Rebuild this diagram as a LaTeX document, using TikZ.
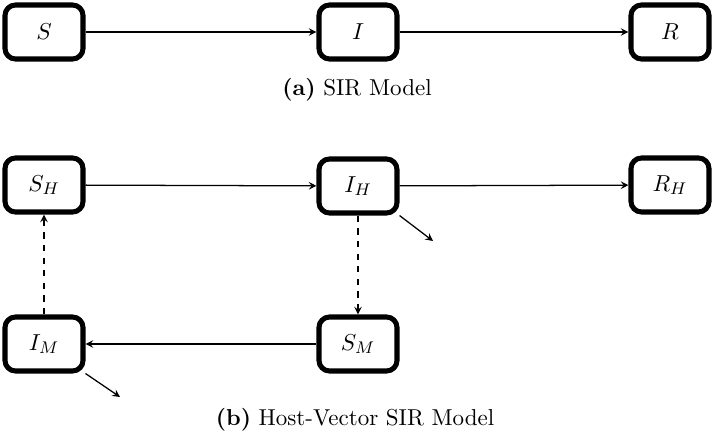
\documentclass[tikz,border=0pt]{standalone}
\begin{document}
\begin{tikzpicture}[x=0.016667cm,y=-0.016667cm,
    every node/.style={font=\fontsize{10.9pt}{13pt}\selectfont},
    box/.style={draw,line width=2.4pt,rounded corners=5pt,
      minimum width=1.3cm,minimum height=0.9cm,inner sep=0pt},
    flow/.style={line width=0.6pt}]
      \useasboundingbox (0,0) rectangle (712,441);
      \path
        (44,32) node[box] (S){$S$}
        (358,32) node[box] (I){$I$}
        (670,32) node[box] (R){$R$}
        (357,90) node (capa){\textbf{(a)} SIR Model};
      \path
        (44,185) node[box] (SH){$S_H$}
        (358,186) node[box] (IH){$I_H$}
        (670,185) node[box] (RH){$R_H$}
        (44,344) node[box] (IM){$I_M$}
        (358,344) node[box] (SM){$S_M$}
        (355,420) node (capb){\textbf{(b)} Host-Vector SIR Model};
      \coordinate (dH) at (433,241);
      \coordinate (dM) at (120,397);
      \begin{scope}[-stealth,flow]
        \draw (S) to (I);
        \draw (I) to (R);
        \draw (SH) to (IH);
        \draw (IH) to (RH);
        \draw (SM) to (IM);
        \draw (IH.south east) to (dH);
        \draw (IM.south east) to (dM);
        \draw[dashed] (IM) to (SH);
        \draw[dashed] (IH) to (SM);
      \end{scope}
    \end{tikzpicture}
\end{document}
